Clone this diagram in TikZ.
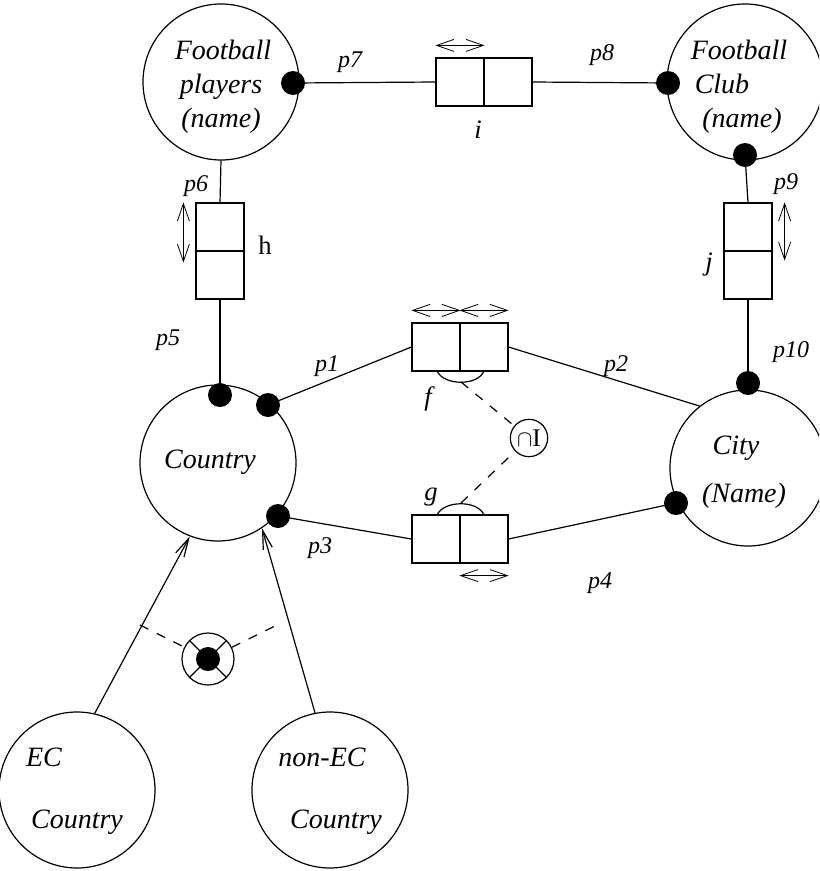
\documentclass[tikz,border=0pt]{standalone}
\usepackage{fontspec}
\setmainfont{Liberation Serif}
\usetikzlibrary{arrows.meta,calc}

\tikzset{
  ent/.style={draw, circle, inner sep=0pt, minimum size=117pt},
  txt/.style={font=\fontsize{21}{25}\selectfont\itshape, anchor=base, inner sep=0pt},
  lbl/.style={font=\fontsize{18}{21}\selectfont\itshape, inner sep=0pt},
  letter/.style={font=\fontsize{20}{24}\selectfont\itshape, inner sep=0pt},
  dot/.style={circle, fill=black, inner sep=0pt, minimum size=18pt},
  half/.style={draw, rectangle, inner sep=0pt, minimum width=36pt, minimum height=36pt},
  role/.style={{Straight Barb[length=13pt,width=9pt]}-{Straight Barb[length=13pt,width=9pt]}, line width=0.6pt},
  isa/.style={-{Straight Barb[length=14pt,width=7pt]}},
  constr/.style={dashed, dash pattern=on 7pt off 7pt},
}

\begin{document}
\begin{tikzpicture}[x=0.75pt, y=-0.75pt, line width=0.9pt]
  \useasboundingbox (0,0) rectangle (819,871);
  \clip (0,0) rectangle (819,871);

  % entity types
  \node[ent] (fp) at (221,82) {};
  \node[ent] (fc) at (745,82) {};
  \node[ent] (country) at (218,463) {};
  \node[ent] (city) at (748,468) {};
  \node[ent] (ec) at (77,790) {};
  \node[ent] (nec) at (330,790) {};

  \node[txt] (fp1) at (223,59) {Football};
  \node[txt] (fp2) at (221,93) {players};
  \node[txt] (fp3) at (221,127) {(name)};
  \node[txt] (fc1) at (739,59) {Football};
  \node[txt] (fc2) at (722,93) {Club};
  \node[txt] (fc3) at (742,127) {(name)};
  \node[txt] (ct1) at (210,468) {Country};
  \node[txt] (cy1) at (736,454) {City};
  \node[txt] (cy2) at (744,502) {(Name)};
  \node[txt] (ec1) at (44,766) {EC};
  \node[txt] (ec2) at (77,828) {Country};
  \node[txt] (nec1) at (322,766) {non-EC};
  \node[txt] (nec2) at (336,828) {Country};

  % fact types (two roles each)
  \node[half] (iL) at (460,82) {};
  \node[half] (iR) at (508,82) {};
  \node[half] (hT) at (220,227) {};
  \node[half] (hB) at (220,275) {};
  \node[half] (jT) at (748,227) {};
  \node[half] (jB) at (748,275) {};
  \node[half] (fL) at (436,347) {};
  \node[half] (fR) at (484,347) {};
  \node[half] (gL) at (436,539) {};
  \node[half] (gR) at (484,539) {};

  % role connectors
  \node[dot] (d7) at (293,83) {};
  \node[dot] (d8) at (668,83) {};
  \node[dot] (d9) at (745,155) {};
  \node[dot] (d10) at (748,383) {};
  \node[dot] (d5) at (220,395) {};
  \node[dot] (d1) at (268,405) {};
  \node[dot] (d3) at (278,516) {};
  \node[dot] (d4) at (676,503) {};

  \draw (d7.center) -- (iL.west);
  \draw (iR.east) -- (d8.center);
  \draw (fp.south) -- (hT.north);
  \draw (hB.south) -- (d5.center);
  \draw (d9.center) -- (jT.north);
  \draw (jB.south) -- (d10.center);
  \draw (d1.center) -- (fL.west);
  \draw (fR.east) -- (city.128);
  \draw (d3.center) -- (gL.west);
  \draw (gR.east) -- (d4.center);

  % uniqueness arrows
  \draw[role] ($(iL.north west)+(0,-12)$) -- ($(iL.north east)+(0,-12)$);
  \draw[role] ($(hT.north west)+(-12,0)$) -- ($(hT.south west)+(-12,11)$);
  \draw[role] ($(jT.north east)+(12,0)$) -- ($(jT.south east)+(12,9)$);
  \draw[role] ($(fL.north west)+(0,-12)$) -- ($(fL.north east)+(0,-12)$);
  \draw[role] ($(fR.north west)+(0,-12)$) -- ($(fR.north east)+(0,-12)$);
  \draw[role] ($(gR.south west)+(0,12)$) -- ($(gR.south east)+(0,12)$);

  % role sequence arcs and subset constraint
  \coordinate (fa) at (461,382);
  \coordinate (ga) at (461,503);
  \draw (437,371) .. controls (444,386) and (478,386) .. (484,371);
  \draw (437,515) .. controls (444,500) and (478,500) .. (484,515);
  \node[draw, circle, inner sep=0pt, minimum size=28pt] (sub) at (529,438)
    {\fontsize{19}{22}\selectfont$\cap$I};
  \draw[constr] (fa) -- (sub);
  \draw[constr] (ga) -- (sub);

  % subtypes
  \draw[isa] (ec.77) -- (country.249);
  \draw[isa] (nec.101) -- (country.304);

  % exclusion constraint
  \node[draw, circle, inner sep=0pt, minimum size=39pt] (xor) at (208,659) {};
  \draw (xor.north east) -- (xor.south west);
  \draw (xor.north west) -- (xor.south east);
  \node[dot] (xdot) at (xor) {};
  \coordinate (xa) at (140,625);
  \coordinate (xb) at (277,625);
  \draw[constr] (xa) -- (xor);
  \draw[constr] (xor) -- (xb);

  % role and fact labels
  \node[lbl] (l7) at (350,62) {p7};
  \node[lbl] (l8) at (602,55) {p8};
  \node[lbl] (l6) at (196,186) {p6};
  \node[lbl] (l5) at (168,340) {p5};
  \node[lbl] (l9) at (786,184) {p9};
  \node[lbl] (l10) at (791,352) {p10};
  \node[lbl] (l1) at (327,366) {p1};
  \node[lbl] (l2) at (616,366) {p2};
  \node[lbl] (l3) at (320,548) {p3};
  \node[lbl] (l4) at (600,583) {p4};
  \node[letter] (li) at (478,130) {i};
  \node[letter, font=\fontsize{20}{24}\selectfont\upshape] (lh) at (265,245) {h};
  \node[letter] (lj) at (709,265) {j};
  \node[letter] (lf) at (428,399) {f};
  \node[letter] (lg) at (431,497) {g};
\end{tikzpicture}
\end{document}
